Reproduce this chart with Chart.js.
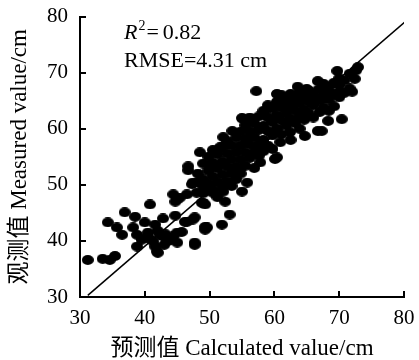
<!DOCTYPE html>
<html lang="zh">
<head>
<meta charset="UTF-8">
<title>观测值 vs 预测值</title>
<script src="https://cdn.jsdelivr.net/npm/chart.js@4.4.1/dist/chart.umd.min.js"></script>
<style>
  html, body { margin: 0; padding: 0; background: #fff; }
</style>
</head>
<body>
<canvas id="scatterChart" width="419" height="360"></canvas>
<script>
// calculated (x) and measured (y) values
const calcValues = [
  31.2, 33.5, 34.6, 35.4, 34.3, 35.7, 36.5, 36.9, 38.5, 38.2,
  38.8, 38.8, 40.8, 40.0, 40.3, 41.6, 41.3, 41.9, 42.3, 43.4,
  42.8, 44.7, 44.4, 45.0, 45.7, 46.5, 47.4, 47.7, 44.4, 44.7,
  46.5, 47.3, 49.0, 49.0, 49.3, 46.7, 47.4, 49.3, 53.1, 51.9,
  49.6, 47.7, 45.0, 52.4, 52.1, 50.5, 50.0, 55.0, 55.0, 53.5,
  52.1, 51.6, 48.5, 46.7, 57.2, 66.7, 65.0, 63.6, 62.4, 61.3,
  60.4, 58.5, 56.7, 55.2, 67.3, 67.0, 66.7, 64.7, 62.4, 60.9,
  60.1, 57.8, 55.8, 69.7, 72.9, 72.4, 72.0, 70.1, 68.1, 70.4,
  68.3, 67.3, 57.8, 55.8, 54.7, 63.6, 60.4,
  40.5, 41.6, 42.0, 42.8, 45.0, 46.2, 47.7, 49.3, 45.4, 48.0,
  48.8, 49.8, 40.5, 42.0, 43.2, 44.0, 43.0, 39.5,
  48.2, 48.2, 49.0, 49.0, 49.0, 49.8, 49.8, 49.8, 50.5, 50.5,
  50.5, 50.5, 51.2, 51.2, 51.2, 51.2, 52.0, 52.0, 52.0, 52.0,
  52.7, 52.7, 52.7, 52.7, 53.4, 53.4, 53.4, 53.4, 54.1, 54.1,
  54.1, 54.1, 54.8, 54.8, 54.8, 54.8, 55.5, 55.5, 55.5, 55.5,
  56.2, 56.2, 56.2, 56.2, 56.9, 56.9, 56.9, 56.9, 57.6, 57.6,
  57.6, 57.6, 58.3, 58.3, 58.3, 58.3, 59.0, 59.0, 59.0, 59.0,
  59.7, 59.7, 59.7, 59.7, 60.4, 60.4, 60.4, 61.1, 61.1, 61.1,
  61.1, 61.8, 61.8, 61.8, 62.5, 62.5, 62.5, 62.5, 63.2, 63.2,
  63.2, 63.9, 63.9, 63.9, 63.9, 64.6, 64.6, 64.6, 65.3, 65.3,
  65.3, 66.0, 66.0, 66.0, 66.8, 66.8, 67.6, 67.6, 67.6, 68.4,
  68.4, 68.4, 69.2, 69.2, 69.2, 70.0, 70.0, 70.0, 70.8, 70.8,
  71.6, 71.6, 72.6
];
const measValues = [
  36.6, 36.8, 36.6, 37.3, 43.3, 42.4, 41.1, 45.1, 44.3, 42.4,
  41.1, 39.0, 46.5, 43.3, 40.6, 42.9, 39.9, 38.1, 41.1, 39.9,
  44.0, 44.5, 40.8, 39.7, 41.6, 43.4, 43.8, 39.7, 48.3, 47.0,
  48.3, 50.1, 49.7, 46.8, 42.0, 52.6, 50.4, 46.5, 44.7, 42.9,
  42.4, 39.3, 47.4, 47.0, 48.8, 48.6, 53.3, 48.8, 61.9, 59.6,
  58.5, 56.7, 55.8, 53.3, 66.7, 68.5, 67.1, 65.8, 64.9, 63.9,
  66.2, 63.0, 61.7, 61.7, 65.3, 63.0, 59.6, 58.7, 59.4, 57.6,
  54.6, 56.9, 58.1, 70.3, 71.0, 68.9, 66.6, 66.6, 66.6, 61.7,
  61.4, 59.6, 54.0, 50.4, 52.8, 67.5, 54.9,
  40.8, 39.0, 37.9, 40.8, 41.5, 43.4, 44.2, 42.5, 47.7, 48.6,
  46.8, 49.5, 41.5, 41.8, 41.2, 40.2, 39.3, 40.2,
  50.5, 52.0, 51.0, 53.8, 48.5, 50.2, 52.5, 55.0, 49.2, 51.5,
  54.0, 56.2, 50.5, 53.0, 55.5, 47.8, 51.8, 54.2, 56.8, 49.5,
  50.6, 53.2, 55.6, 57.8, 52.0, 54.5, 57.0, 49.8, 53.2, 55.8,
  58.4, 51.0, 54.5, 57.0, 59.5, 52.0, 53.4, 55.8, 58.2, 60.6,
  54.8, 57.2, 59.6, 62.0, 56.0, 58.5, 61.0, 53.0, 57.2, 59.8,
  62.2, 55.2, 58.0, 60.5, 63.2, 56.0, 57.0, 59.6, 62.0, 64.2,
  58.8, 61.2, 63.6, 56.4, 60.0, 62.4, 64.8, 59.0, 61.5, 63.8,
  66.0, 60.6, 62.8, 65.0, 61.8, 64.0, 66.2, 58.0, 61.0, 63.2,
  65.4, 62.2, 64.5, 66.6, 60.0, 63.4, 65.6, 61.6, 62.8, 64.8,
  66.8, 64.2, 66.0, 62.0, 65.0, 67.0, 63.8, 66.0, 68.0, 65.2,
  67.4, 63.2, 64.0, 66.2, 68.2, 65.6, 67.8, 69.0, 66.4, 68.6,
  67.2, 69.8, 70.4
];
// 1:1 reference line end points
const lineX = [31.2, 80.3];
const lineY = [30.3, 79.2];

const axisMin = 30, axisMax = 80, axisStep = 10;
const xTitle = '预测值 Calculated value/cm';
const yTitle = '观测值 Measured value/cm';
const r2Text = '0.82';
const rmseText = 'RMSE=4.31 cm';

const serif = '"Liberation Serif", "Noto Sans CJK SC", serif';

function makeDot(w, h) {
  const c = document.createElement('canvas');
  c.width = w; c.height = h;
  const g = c.getContext('2d');
  g.fillStyle = '#000';
  g.beginPath();
  g.ellipse(w / 2, h / 2, w / 2, h / 2, 0, 0, Math.PI * 2);
  g.fill();
  return c;
}

const innerTicks = {
  id: 'innerTicks',
  afterDraw(chart) {
    const { ctx, scales: { x, y } } = chart;
    ctx.save();
    ctx.strokeStyle = '#000';
    ctx.lineWidth = 2;
    x.ticks.forEach(t => {
      const px = Math.round(x.getPixelForValue(t.value));
      ctx.beginPath();
      ctx.moveTo(px, x.top);
      ctx.lineTo(px, x.top - 6);
      ctx.stroke();
    });
    y.ticks.forEach(t => {
      const py = Math.round(y.getPixelForValue(t.value));
      ctx.beginPath();
      ctx.moveTo(y.right, py);
      ctx.lineTo(y.right + 6, py);
      ctx.stroke();
    });
    ctx.restore();
  }
};

const statsText = {
  id: 'statsText',
  afterDraw(chart) {
    const { ctx, chartArea } = chart;
    const x0 = chartArea.left + 44;
    let y0 = chartArea.top + 22;
    ctx.save();
    ctx.fillStyle = '#000';
    ctx.textBaseline = 'alphabetic';
    ctx.font = 'italic 22px "Liberation Serif"';
    ctx.fillText('R', x0, y0);
    let cx = x0 + ctx.measureText('R').width + 1;
    ctx.font = '14px "Liberation Serif"';
    ctx.fillText('2', cx, y0 - 9);
    cx += ctx.measureText('2').width + 1;
    ctx.font = '22px "Liberation Serif"';
    ctx.fillText('=', cx, y0);
    cx += ctx.measureText('=').width + 4;
    ctx.fillText(r2Text, cx, y0);
    ctx.fillText(rmseText, x0, y0 + 28);
    ctx.restore();
  }
};

Chart.defaults.color = '#000';
Chart.defaults.font.family = serif;

new Chart(document.getElementById('scatterChart'), {
  type: 'scatter',
  data: {
    datasets: [
      {
        label: 'points',
        data: calcValues.map((v, i) => ({ x: v, y: measValues[i] })),
        pointStyle: makeDot(12, 10),
        backgroundColor: '#000',
        borderColor: '#000'
      },
      {
        label: '1:1',
        data: lineX.map((v, i) => ({ x: v, y: lineY[i] })),
        showLine: true,
        borderColor: '#000',
        borderWidth: 1.5,
        pointRadius: 0
      }
    ]
  },
  options: {
    responsive: false,
    animation: false,
    layout: { padding: { top: -4, right: 15, left: 0, bottom: 0 } },
    plugins: { legend: { display: false }, tooltip: { enabled: false } },
    scales: {
      x: {
        type: 'linear',
        min: axisMin, max: axisMax,
        afterFit: s => { s.height = 63; },
        grid: { display: false },
        border: { display: true, color: '#000', width: 2 },
        ticks: { stepSize: axisStep, padding: 1, maxRotation: 0, font: { size: 21 } },
        title: { display: true, text: xTitle, font: { size: 23, lineHeight: 1.0 }, padding: { top: 0, bottom: 0 } }
      },
      y: {
        type: 'linear',
        min: axisMin, max: axisMax,
        afterFit: s => { s.width = 80; },
        grid: { display: false },
        border: { display: true, color: '#000', width: 2 },
        ticks: { stepSize: axisStep, padding: 4, font: { size: 21 } },
        title: { display: true, text: yTitle, font: { size: 23, lineHeight: 1.0 }, padding: { top: 8, bottom: 0 } }
      }
    }
  },
  plugins: [innerTicks, statsText]
});
</script>
</body>
</html>
